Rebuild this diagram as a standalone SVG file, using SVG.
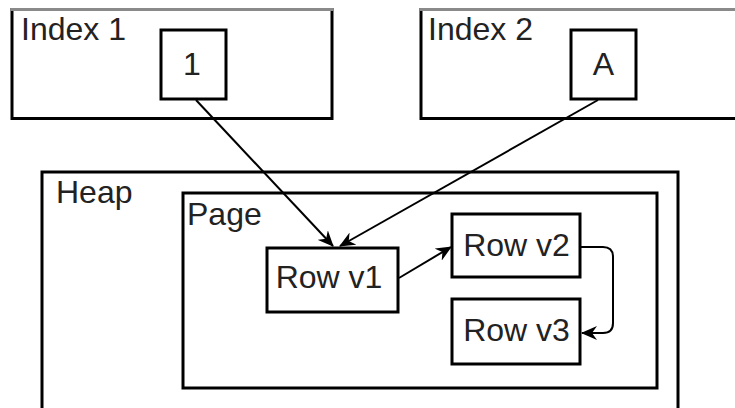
<svg xmlns="http://www.w3.org/2000/svg" width="735" height="408" viewBox="0 0 735 408">
  <style>
    .box { fill: #ffffff; stroke: #000000; stroke-width: 3; }
    .edge-top { stroke: #8a8a8a; stroke-width: 3; }
    .lbl { font-family: "Liberation Sans", Arial, sans-serif; font-size: 32px; fill: #222222; }
    .mid { text-anchor: middle; }
    .conn { fill: none; stroke: #000000; stroke-width: 2; }
  </style>
  <defs>
    <marker id="arrow" viewBox="0 0 16 14" refX="15" refY="7" markerWidth="16" markerHeight="14" markerUnits="userSpaceOnUse" orient="auto">
      <path d="M0,0 L16,7 L0,14 L5,7 Z" fill="#000000"/>
    </marker>
  </defs>

  <rect width="735" height="408" fill="#ffffff"/>

  <!-- Index 1 with its key -->
  <g id="index1">
    <rect class="box" x="12" y="9.5" width="320" height="109"/>
    <line class="edge-top" x1="10.5" y1="9.5" x2="333.5" y2="9.5"/>
    <text class="lbl" x="21" y="40">Index 1</text>
  </g>
  <g id="key1">
    <rect class="box" x="161" y="30" width="65" height="69"/>
    <text class="lbl mid" x="192" y="75">1</text>
  </g>

  <!-- Index 2 with its key -->
  <g id="index2">
    <rect class="box" x="421" y="9.5" width="330" height="109"/>
    <line class="edge-top" x1="419.5" y1="9.5" x2="735" y2="9.5"/>
    <text class="lbl" x="428" y="40">Index 2</text>
  </g>
  <g id="keyA">
    <rect class="box" x="571" y="30" width="65" height="69"/>
    <text class="lbl mid" x="603.5" y="75">A</text>
  </g>

  <!-- Heap and page containers -->
  <g id="heap">
    <rect class="box" x="42" y="172" width="636" height="260"/>
    <text class="lbl" x="56" y="203">Heap</text>
  </g>
  <g id="page">
    <rect class="box" x="183" y="193" width="474" height="195"/>
    <text class="lbl" x="187" y="225">Page</text>
  </g>

  <!-- Row versions -->
  <g id="row-v1">
    <rect class="box" x="267" y="248" width="131" height="64"/>
    <text class="lbl mid" x="329" y="288">Row v1</text>
  </g>
  <g id="row-v2">
    <rect class="box" x="452" y="214" width="128" height="63"/>
    <text class="lbl mid" x="516.5" y="256">Row v2</text>
  </g>
  <g id="row-v3">
    <rect class="box" x="452" y="299" width="128" height="65"/>
    <text class="lbl mid" x="516.5" y="341">Row v3</text>
  </g>

  <!-- Connectors -->
  <g id="connectors">
    <line class="conn" x1="196" y1="100" x2="333" y2="246" marker-end="url(#arrow)"/>
    <line class="conn" x1="598" y1="100" x2="340" y2="246" marker-end="url(#arrow)"/>
    <line class="conn" x1="399" y1="278" x2="451" y2="247" marker-end="url(#arrow)"/>
    <path class="conn" d="M581,247 H603 Q613,247 613,257 V323 Q613,333 603,333 H582" marker-end="url(#arrow)"/>
  </g>
</svg>
